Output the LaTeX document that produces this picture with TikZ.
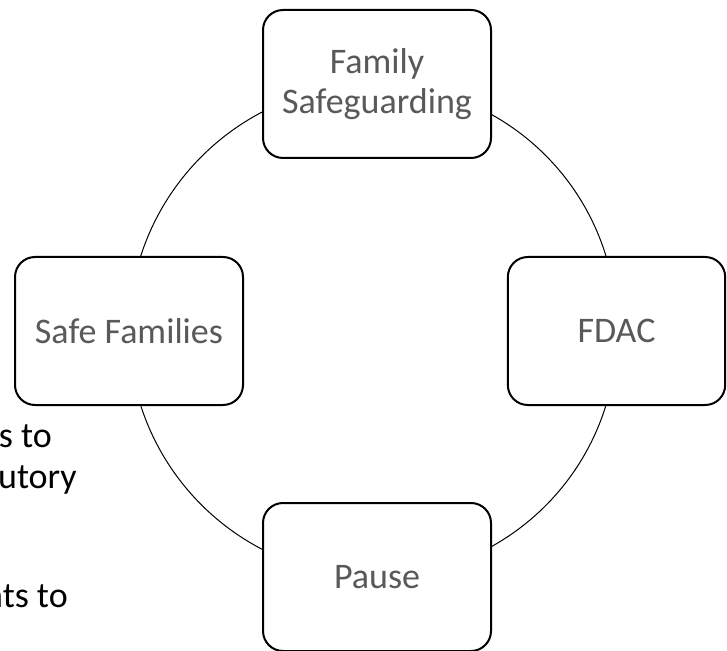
\documentclass[tikz,border=0pt]{standalone}
\usepackage{fontspec}
\setmainfont{Carlito}
\usetikzlibrary{positioning, backgrounds}
\definecolor{labelgray}{RGB}{89,89,89}

\begin{document}
\begin{tikzpicture}[
        x=0.75pt, y=0.75pt,
        stage/.style={rectangle, rounded corners=15pt, draw=black, line width=1.5pt, fill=white, text centered, align=center, minimum width=171pt, minimum height=111pt, font=\fontsize{27}{30}\selectfont, text=labelgray, inner sep=0pt},
        ring/.style={draw=black, line width=0.75pt},
        cuttext/.style={anchor=base east, font=\fontsize{27}{30}\selectfont, text=black, inner sep=0pt},
    ]
        \useasboundingbox (0,0) rectangle (727,650);

        % text behind the picture, cut off at the left edge
        \node[cuttext] (frag1) at (52,203) {s to};
        \node[cuttext] (frag2) at (77,162) {utory};
        \node[cuttext] (frag3) at (68,43) {nts to};

        \node[stage] (famsafe) at (377,566) {Family\\Safeguarding};
        \node[stage, minimum width=163pt] (fdac) at (616.5,319) {FDAC};
        \node[stage] (pause) at (377,73) {Pause};
        \node[stage] (safefam) at (129,319) {Safe Families};

        % the ring runs from centre to centre, the boxes hide the inner part
        \begin{scope}[on background layer]
            \draw[ring] (famsafe.center) to[bend left=45] (fdac.center);
            \draw[ring] (fdac.center) to[bend left=45] (pause.center);
            \draw[ring] (pause.center) to[bend left=45] (safefam.center);
            \draw[ring] (safefam.center) to[bend left=45] (famsafe.center);
        \end{scope}
    \end{tikzpicture}
\end{document}
